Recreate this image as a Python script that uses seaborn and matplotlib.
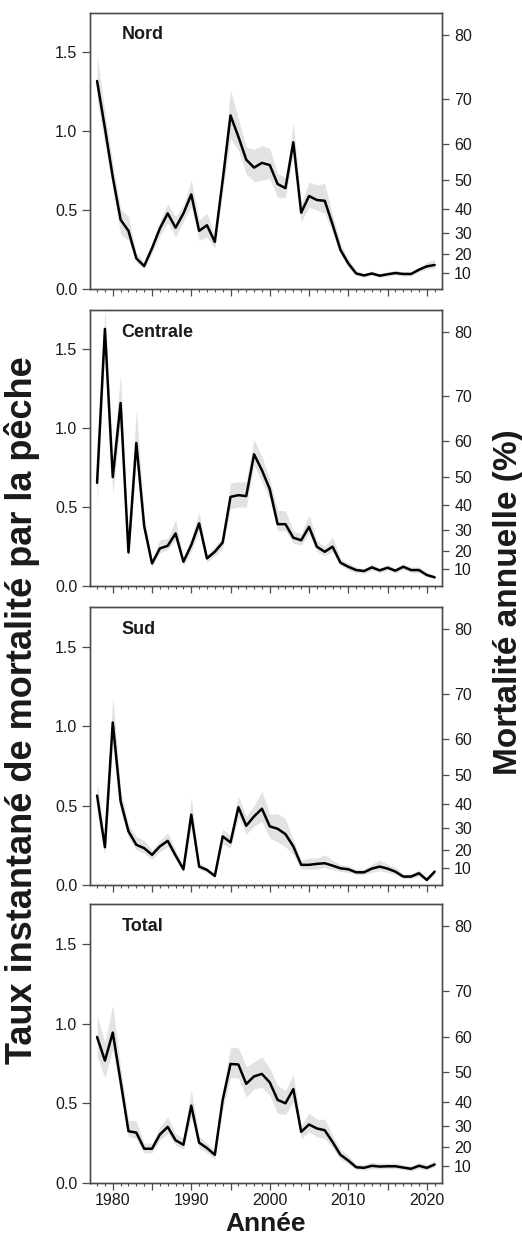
import numpy as np
import pandas as pd
import matplotlib
matplotlib.use("Agg")
import matplotlib.pyplot as plt
from matplotlib.ticker import FixedLocator, MultipleLocator
import seaborn as sns

years = list(range(1978, 2022))
regions = ["Nord", "Centrale", "Sud", "Total"]

nord_f = [1.318, 1.02, 0.71, 0.44, 0.37, 0.196, 0.147, 0.26, 0.385, 0.48, 0.39, 0.48, 0.60, 0.37, 0.405, 0.30, 0.69, 1.10, 0.966, 0.82, 0.77, 0.80, 0.786, 0.666, 0.64, 0.93, 0.485, 0.59, 0.565, 0.56, 0.41, 0.25, 0.164, 0.10, 0.088, 0.10, 0.086, 0.095, 0.103, 0.097, 0.097, 0.124, 0.145, 0.154]
nord_lo = [1.20, 0.92, 0.64, 0.35, 0.31, 0.17, 0.13, 0.23, 0.34, 0.42, 0.33, 0.43, 0.52, 0.31, 0.33, 0.26, 0.62, 0.955, 0.88, 0.73, 0.68, 0.69, 0.70, 0.58, 0.58, 0.86, 0.43, 0.52, 0.50, 0.48, 0.36, 0.22, 0.14, 0.09, 0.075, 0.09, 0.076, 0.085, 0.09, 0.085, 0.085, 0.11, 0.13, 0.13]
nord_hi = [1.48, 1.12, 0.80, 0.51, 0.46, 0.23, 0.17, 0.29, 0.43, 0.54, 0.46, 0.53, 0.69, 0.44, 0.48, 0.34, 0.76, 1.26, 1.08, 0.90, 0.886, 0.91, 0.89, 0.73, 0.71, 1.05, 0.54, 0.68, 0.66, 0.67, 0.47, 0.29, 0.19, 0.12, 0.10, 0.115, 0.10, 0.11, 0.12, 0.11, 0.11, 0.14, 0.17, 0.19]

centrale_f = [0.654, 1.63, 0.69, 1.16, 0.213, 0.907, 0.38, 0.143, 0.238, 0.255, 0.333, 0.154, 0.26, 0.397, 0.175, 0.217, 0.276, 0.565, 0.576, 0.57, 0.835, 0.734, 0.614, 0.392, 0.392, 0.306, 0.29, 0.375, 0.249, 0.217, 0.249, 0.148, 0.122, 0.101, 0.095, 0.118, 0.099, 0.116, 0.097, 0.122, 0.101, 0.101, 0.07, 0.055]
centrale_lo = [0.52, 1.50, 0.58, 1.05, 0.16, 0.80, 0.32, 0.12, 0.21, 0.23, 0.29, 0.13, 0.22, 0.35, 0.15, 0.19, 0.24, 0.49, 0.50, 0.50, 0.77, 0.66, 0.55, 0.35, 0.35, 0.27, 0.26, 0.33, 0.22, 0.19, 0.22, 0.13, 0.10, 0.085, 0.08, 0.10, 0.085, 0.10, 0.082, 0.105, 0.085, 0.085, 0.058, 0.045]
centrale_hi = [0.75, 1.76, 0.82, 1.34, 0.28, 1.12, 0.45, 0.17, 0.295, 0.30, 0.42, 0.18, 0.30, 0.47, 0.20, 0.25, 0.31, 0.654, 0.66, 0.66, 0.93, 0.82, 0.68, 0.48, 0.477, 0.35, 0.33, 0.45, 0.29, 0.25, 0.31, 0.175, 0.145, 0.12, 0.11, 0.14, 0.115, 0.135, 0.115, 0.14, 0.12, 0.12, 0.085, 0.065]

sud_f = [0.563, 0.238, 1.023, 0.527, 0.338, 0.253, 0.232, 0.19, 0.243, 0.278, 0.186, 0.099, 0.443, 0.116, 0.095, 0.057, 0.306, 0.268, 0.49, 0.373, 0.432, 0.48, 0.369, 0.354, 0.32, 0.243, 0.127, 0.127, 0.133, 0.137, 0.122, 0.105, 0.099, 0.08, 0.08, 0.103, 0.116, 0.103, 0.084, 0.053, 0.053, 0.074, 0.032, 0.084]
sud_lo = [0.45, 0.19, 0.88, 0.46, 0.30, 0.22, 0.20, 0.16, 0.21, 0.24, 0.16, 0.08, 0.36, 0.10, 0.08, 0.045, 0.26, 0.23, 0.43, 0.32, 0.37, 0.40, 0.295, 0.27, 0.24, 0.19, 0.10, 0.10, 0.10, 0.11, 0.095, 0.085, 0.08, 0.065, 0.065, 0.08, 0.09, 0.08, 0.065, 0.04, 0.04, 0.055, 0.022, 0.065]
sud_hi = [0.66, 0.28, 1.19, 0.60, 0.38, 0.306, 0.28, 0.22, 0.28, 0.33, 0.22, 0.12, 0.55, 0.14, 0.11, 0.07, 0.352, 0.31, 0.56, 0.43, 0.50, 0.59, 0.443, 0.45, 0.415, 0.285, 0.155, 0.169, 0.17, 0.19, 0.155, 0.13, 0.12, 0.10, 0.10, 0.13, 0.158, 0.13, 0.11, 0.07, 0.07, 0.095, 0.045, 0.105]

total_f = [0.916, 0.768, 0.943, 0.637, 0.325, 0.316, 0.215, 0.215, 0.304, 0.352, 0.268, 0.24, 0.485, 0.253, 0.219, 0.177, 0.521, 0.747, 0.743, 0.622, 0.669, 0.684, 0.631, 0.521, 0.50, 0.589, 0.321, 0.367, 0.342, 0.331, 0.257, 0.177, 0.141, 0.099, 0.095, 0.108, 0.103, 0.105, 0.105, 0.097, 0.089, 0.108, 0.095, 0.116]
total_lo = [0.795, 0.658, 0.84, 0.56, 0.29, 0.28, 0.19, 0.19, 0.27, 0.31, 0.24, 0.21, 0.41, 0.22, 0.19, 0.15, 0.46, 0.66, 0.66, 0.54, 0.59, 0.60, 0.55, 0.437, 0.43, 0.51, 0.28, 0.32, 0.29, 0.28, 0.22, 0.15, 0.12, 0.085, 0.08, 0.09, 0.088, 0.09, 0.09, 0.085, 0.075, 0.09, 0.08, 0.10]
total_hi = [1.05, 0.88, 1.116, 0.72, 0.395, 0.39, 0.25, 0.25, 0.35, 0.416, 0.31, 0.28, 0.584, 0.29, 0.25, 0.20, 0.58, 0.852, 0.848, 0.73, 0.76, 0.79, 0.72, 0.61, 0.58, 0.68, 0.36, 0.437, 0.40, 0.40, 0.30, 0.21, 0.17, 0.12, 0.115, 0.13, 0.125, 0.125, 0.125, 0.115, 0.105, 0.13, 0.115, 0.14]

left_ticks = [0.0, 0.5, 1.0, 1.5]
left_ticklabels = ["0.0", "0.5", "1.0", "1.5"]
pct_ticks = [10, 20, 30, 40, 50, 60, 70, 80]
year_major = [1980, 1985, 1990, 1995, 2000, 2005, 2010, 2015, 2020]
year_labels = ["1980", "", "1990", "", "2000", "", "2010", "", "2020"]

series = {
    "Nord": (nord_f, nord_lo, nord_hi),
    "Centrale": (centrale_f, centrale_lo, centrale_hi),
    "Sud": (sud_f, sud_lo, sud_hi),
    "Total": (total_f, total_lo, total_hi),
}

sns.set_style("ticks")
plt.rcParams["font.family"] = ["Liberation Sans", "DejaVu Sans"]

W, H = 522, 1237
fig = plt.figure(figsize=(W / 100, H / 100), dpi=100)

left_px, right_px = 90, 441.7
panel_px = [(12.7, 289.3), (310.0, 586.0), (607.0, 885.0), (904.0, 1183.0)]
spine_col = "#4d4d4d"
text_col = "#1a1a1a"

for i, reg in enumerate(regions):
    top, bot = panel_px[i]
    ax = fig.add_axes([left_px / W, 1 - bot / H, (right_px - left_px) / W, (bot - top) / H])
    f, lo, hi = series[reg]
    df = pd.DataFrame({"Année": years, "F": f, "lo": lo, "hi": hi})
    ax.fill_between(df["Année"], df["lo"], df["hi"], color="#e2e2e2", lw=0, zorder=1)
    sns.lineplot(data=df, x="Année", y="F", ax=ax, color="black", lw=1.8, zorder=3)
    ax.set_xlim(1977.1, 2021.9)
    ax.set_ylim(0, 1.75)
    ax.set_xlabel("")
    ax.set_ylabel("")
    ax.set_yticks(left_ticks)
    ax.set_yticklabels(left_ticklabels)
    ax.xaxis.set_major_locator(FixedLocator(year_major))
    ax.xaxis.set_minor_locator(MultipleLocator(1))
    if i == 3:
        ax.set_xticklabels(year_labels)
    else:
        ax.set_xticklabels([])
    ax.tick_params(axis="y", which="major", length=6, width=0.9, color=spine_col,
                   labelsize=11.5, labelcolor=text_col, pad=3)
    ax.tick_params(axis="x", which="major", length=5, width=0.9, color=spine_col,
                   labelsize=11.5, labelcolor=text_col, pad=2)
    ax.tick_params(axis="x", which="minor", length=2.5, width=0.8, color=spine_col)
    for s in ax.spines.values():
        s.set_visible(True)
        s.set_color(spine_col)
        s.set_linewidth(1.0)
    ax.text(0.09, 0.92, reg, transform=ax.transAxes, fontsize=13, fontweight="bold",
            ha="left", va="center", color=text_col)

    ax2 = ax.twinx()
    ax2.set_ylim(ax.get_ylim())
    ax2.set_yticks([-np.log(1 - p / 100) for p in pct_ticks])
    ax2.set_yticklabels([str(p) for p in pct_ticks])
    ax2.tick_params(axis="y", length=5, width=0.9, color=spine_col,
                    labelsize=11.5, labelcolor=text_col, pad=4)
    for s in ax2.spines.values():
        s.set_color(spine_col)
        s.set_linewidth(1.0)

fig.text(22 / W, 1 - 710 / H, "Taux instantané de mortalité par la pêche", rotation=90,
         ha="center", va="center", fontsize=26, fontweight="bold", color=text_col)
fig.text(508 / W, 1 - 602 / H, "Mortalité annuelle (%)", rotation=90,
         ha="center", va="center", fontsize=24, fontweight="bold", color=text_col)
fig.text(266 / W, 1 - 1224 / H, "Année", ha="center", va="center",
         fontsize=19, fontweight="bold", color=text_col)

fig.savefig("out.png", dpi=100)
